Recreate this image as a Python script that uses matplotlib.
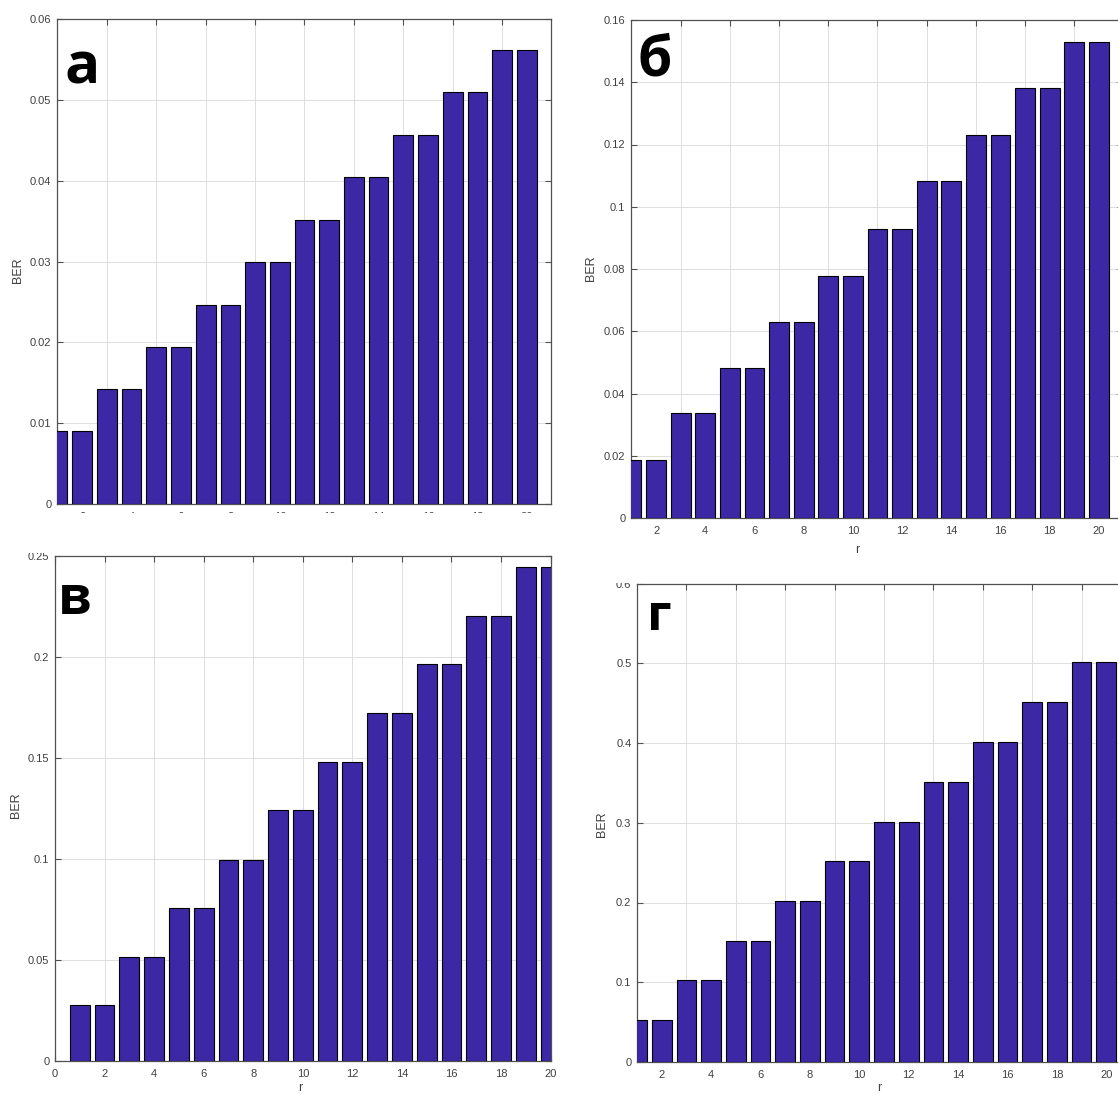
import matplotlib.pyplot as plt
from matplotlib.patches import Rectangle
from matplotlib.ticker import FuncFormatter

# figure size in pixels (dpi 100)
W, H = 1118, 1095

# ---- data ----
r = list(range(1, 21))
ber_a = [0.0090, 0.0090, 0.0142, 0.0142, 0.0194, 0.0194, 0.0246, 0.0246, 0.0299, 0.0299,
         0.0351, 0.0351, 0.0404, 0.0404, 0.0457, 0.0457, 0.0510, 0.0510, 0.0562, 0.0562]
ber_b = [0.0186, 0.0186, 0.0337, 0.0337, 0.0483, 0.0483, 0.0631, 0.0631, 0.0779, 0.0779,
         0.0929, 0.0929, 0.1082, 0.1082, 0.1230, 0.1230, 0.1381, 0.1381, 0.1529, 0.1529]
ber_v = [0.0276, 0.0276, 0.0515, 0.0515, 0.0757, 0.0757, 0.0996, 0.0996, 0.1242, 0.1242,
         0.1479, 0.1479, 0.1721, 0.1721, 0.1964, 0.1964, 0.2202, 0.2202, 0.2445, 0.2445]
ber_g = [0.0525, 0.0525, 0.1024, 0.1024, 0.1519, 0.1519, 0.2017, 0.2017, 0.2521, 0.2521,
         0.3015, 0.3015, 0.3514, 0.3514, 0.4018, 0.4018, 0.4516, 0.4516, 0.5015, 0.5015]

yticks_a = [0, 0.01, 0.02, 0.03, 0.04, 0.05, 0.06]
yticks_b = [0, 0.02, 0.04, 0.06, 0.08, 0.10, 0.12, 0.14, 0.16]
yticks_v = [0, 0.05, 0.10, 0.15, 0.20, 0.25]
yticks_g = [0, 0.1, 0.2, 0.3, 0.4, 0.5, 0.6]

odd_r = [3, 5, 7, 9, 11, 13, 15, 17, 19]
even_r = [2, 4, 6, 8, 10, 12, 14, 16, 18, 20]
even_r0 = [0, 2, 4, 6, 8, 10, 12, 14, 16, 18, 20]

BAR = "#3c28a4"
AXC = "#505050"
TXT = "#404040"

plt.rcParams["font.family"] = ["Liberation Sans", "DejaVu Sans"]

fig = plt.figure(figsize=(W / 100, H / 100), dpi=100)


def px_rect(left, top, right, bottom):
    return [left / W, 1 - bottom / H, (right - left) / W, (bottom - top) / H]


def panel(rect, values, xlim, yticks, grid_x, label_x):
    ax = fig.add_axes(px_rect(*rect))
    ax.bar(r, values, width=0.8, color=BAR, edgecolor="black", linewidth=0.8, zorder=3)
    ax.set_xlim(*xlim)
    ax.set_ylim(yticks[0], yticks[-1])
    ax.set_yticks(yticks)
    ax.yaxis.set_major_formatter(FuncFormatter(lambda v, p: f"{v:g}"))
    ax.set_xticks(grid_x)
    if grid_x == label_x:
        ax.set_xticklabels([str(v) for v in label_x])
        ax.tick_params(axis="x", which="major", pad=6, labelsize=8, labelcolor=TXT)
    else:
        # grid/tick marks at odd r, labels at even r (as in the original collage)
        ax.set_xticklabels([])
        ax.set_xticks(label_x, minor=True)
        ax.set_xticklabels([str(v) for v in label_x], minor=True)
        ax.tick_params(axis="x", which="minor", length=0, pad=6, labelsize=8, labelcolor=TXT)
    ax.tick_params(axis="x", which="major", direction="in", length=4, top=True,
                   color=AXC, width=0.8)
    ax.tick_params(axis="y", direction="in", length=4, right=True, color=AXC,
                   width=0.8, labelsize=8, labelcolor=TXT, pad=4)
    ax.grid(True, which="major", color="#dedede", linewidth=0.7, zorder=0)
    ax.set_axisbelow(True)
    for s in ax.spines.values():
        s.set_color(AXC)
        s.set_linewidth(0.9)
    return ax


ax_a = panel((57, 19, 551, 504), ber_a, (0.98, 20.98), yticks_a, odd_r, even_r)
ax_b = panel((631, 20, 1123, 518), ber_b, (0.98, 20.98), yticks_b, odd_r, even_r)
ax_v = panel((55, 556, 550.6, 1061), ber_v, (0, 20), yticks_v, even_r0, even_r0)
ax_g = panel((637, 583.5, 1131, 1062), ber_g, (1.0, 21.0), yticks_g, odd_r, even_r)


def ftext(x, y, s, **kw):
    fig.text(x / W, 1 - y / H, s, **kw)


# axis labels
for x, y in [(18, 270), (591, 268), (16, 805), (602, 824)]:
    ftext(x, y, "BER", rotation=90, ha="center", va="center", fontsize=9, color=TXT)
for x, y in [(857, 550), (300, 1088), (879, 1088)]:
    ftext(x, y, "r", ha="center", va="center", fontsize=9, color=TXT)

# panel letters
letter_font = ["Open Sans", "DejaVu Sans"]
ftext(82, 84, "а", ha="center", va="baseline", fontsize=42, fontweight="bold", family=letter_font)
ftext(655, 76, "б", ha="center", va="baseline", fontsize=40, fontweight="bold", family=letter_font)
ftext(75, 614, "в", ha="center", va="baseline", fontsize=38, fontweight="bold", family=letter_font)
ftext(659, 630, "г", ha="center", va="baseline", fontsize=37, fontweight="bold", family=letter_font)

# the pasted pictures overlap: cover the parts hidden in the collage
fig.patches.append(Rectangle((0, 1 - 553 / H), 560 / W, 40 / H, transform=fig.transFigure,
                             facecolor="white", edgecolor="none", zorder=5))
fig.patches.append(Rectangle((560 / W, 1 - 582.5 / H), 80 / W, 24 / H, transform=fig.transFigure,
                             facecolor="white", edgecolor="none", zorder=5))

fig.savefig("out.png", dpi=100, facecolor="white")
